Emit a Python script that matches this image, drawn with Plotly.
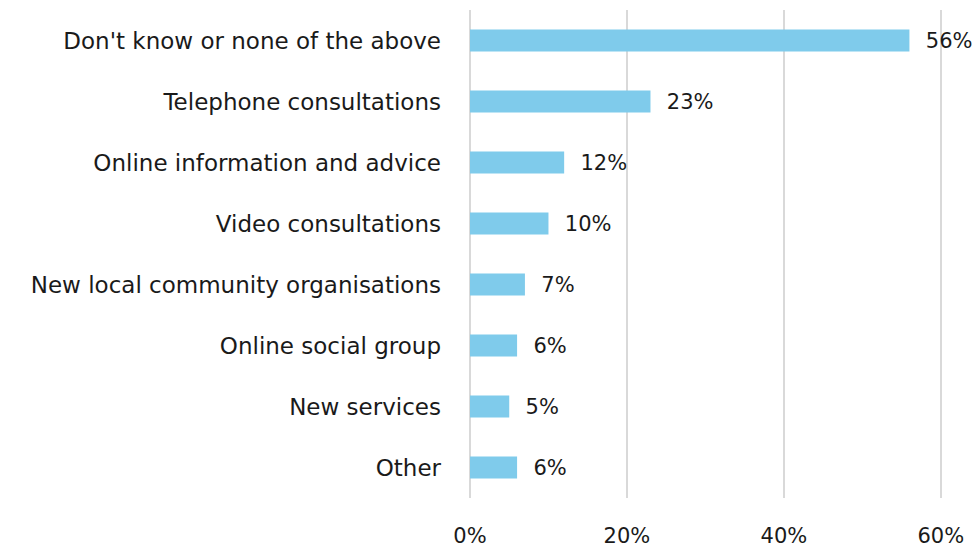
import plotly.graph_objects as go

categories = [
    "Don't know or none of the above",
    "Telephone consultations",
    "Online information and advice",
    "Video consultations",
    "New local community organisations",
    "Online social group",
    "New services",
    "Other",
]
values = [56, 23, 12, 10, 7, 6, 5, 6]
tick_vals = [0, 20, 40, 60]
tick_text = ["0%", "20%", "40%", "60%"]

font_family = "DejaVu Sans, sans-serif"
text_color = "#1a1a1a"

fig = go.Figure(
    go.Bar(
        x=values,
        y=categories,
        orientation="h",
        width=0.36,
        marker=dict(color="#7FCBEB", line=dict(width=0)),
        text=[f"{v}%" for v in values],
        texttemplate="  %{text}",
        textposition="outside",
        constraintext="none",
        textfont=dict(family=font_family, size=21, color=text_color),
        cliponaxis=False,
    )
)

fig.update_layout(
    width=978,
    height=550,
    margin=dict(l=470, r=36, t=10, b=52, autoexpand=False),
    plot_bgcolor="white",
    paper_bgcolor="white",
    showlegend=False,
    font=dict(family=font_family, size=21, color=text_color),
    xaxis=dict(
        range=[0, 60.15],
        tickvals=tick_vals,
        ticktext=tick_text,
        showgrid=True,
        gridcolor="#D9D9D9",
        gridwidth=2,
        zeroline=True,
        zerolinecolor="#D9D9D9",
        zerolinewidth=2,
        showline=False,
        automargin=False,
        ticklabelstandoff=23,
        tickfont=dict(size=21, color=text_color),
    ),
    yaxis=dict(
        autorange="reversed",
        showgrid=False,
        showline=False,
        ticks="",
        automargin=False,
        ticklabelstandoff=28,
        tickfont=dict(size=23, color=text_color),
    ),
)

fig.write_html("out.html")
